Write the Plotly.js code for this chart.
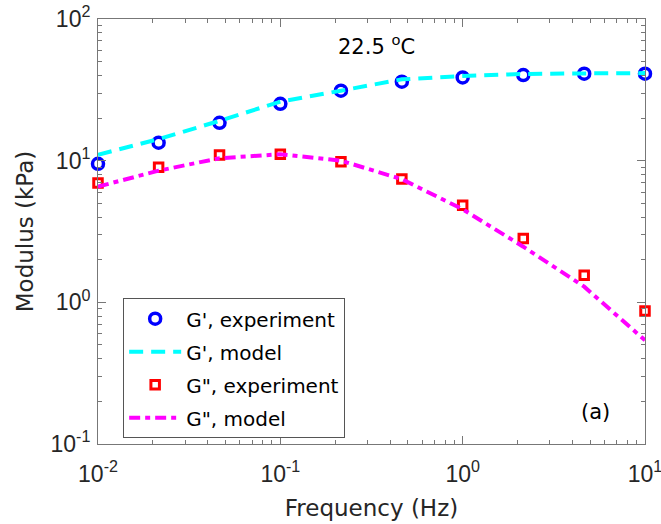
<!DOCTYPE html>
<html>
<head>
<meta charset="utf-8">
<script src="https://cdn.plot.ly/plotly-3.0.1.min.js"></script>
<style>html,body{margin:0;padding:0;background:#fff}#chart{width:661px;height:524px}</style>
</head>
<body>
<div id="chart"></div>
<script>
const freq = [0.01, 0.0215, 0.0464, 0.1, 0.215, 0.464, 1, 2.15, 4.64, 10];
const gStorageExp = [9.5, 13.4, 18.5, 25.2, 31.2, 36.1, 38.7, 40.2, 41.1, 41.1];
const gStorageModel = [11.0, 14.2, 19.1, 26.1, 31.2, 37.5, 39.6, 40.9, 41.3, 41.5];
const gLossExp = [6.96, 8.98, 10.96, 11.1, 9.84, 7.43, 4.84, 2.82, 1.55, 0.87];
const gLossModel = [6.56, 8.5, 10.4, 11.1, 10.0, 7.4, 4.54, 2.47, 1.29, 0.54];
const xTickVals = [0.01, 0.1, 1, 10];
const xTickText = ['10<sup>-2</sup>', '10<sup>-1</sup>', '10<sup>0</sup>', '10<sup>1</sup>'];
const yTickVals = [0.1, 1, 10, 100];
const yTickText = ['10<sup>-1</sup>', '10<sup>0</sup>', '10<sup>1</sup>', '10<sup>2</sup>'];

function minorVals(decades) {
  const out = [];
  decades.forEach(d => { for (let k = 2; k <= 9; k++) out.push(k * d); });
  return out;
}
const xMinor = minorVals([0.01, 0.1, 1]);
const yMinor = minorVals([0.1, 1, 10]);

const font = 'Liberation Sans, Arial, sans-serif';
const wide = 'DejaVu Sans, sans-serif';
const tc = '#262626';
const traces = [
  {x: freq, y: gStorageExp, name: "G', experiment", mode: 'markers', type: 'scatter', legendgroup: 'a',
   cliponaxis: false,
   marker: {symbol: 'circle-open', size: 11, color: '#0000ff', line: {width: 3.5, color: '#0000ff'}}},
  {x: freq, y: gStorageModel, name: "G', model", mode: 'lines', type: 'scatter', legendgroup: 'b',
   line: {color: '#00ffff', width: 4, dash: '14px,8px'}},
  {x: freq, y: gLossExp, name: 'G", experiment', mode: 'markers', type: 'scatter', legendgroup: 'c',
   cliponaxis: false,
   marker: {symbol: 'square-open', size: 8.5, color: '#ff0000', line: {width: 3, color: '#ff0000'}}},
  {x: freq, y: gLossModel, name: 'G", model', mode: 'lines', type: 'scatter', legendgroup: 'd',
   line: {color: '#ff00ff', width: 4, dash: '11px,5px,5px,5px'}},
  {x: [0.01, 10], y: [0.1, 100], xaxis: 'x2', yaxis: 'y2', mode: 'markers', showlegend: false,
   marker: {opacity: 0}, hoverinfo: 'skip'}
];
const axisCommon = {
  type: 'log', showgrid: false, zeroline: false, showline: true, mirror: 'ticks',
  linecolor: '#777', linewidth: 1, ticks: 'inside', ticklen: 8, tickcolor: '#777',
  tickfont: {family: font, size: 23, color: tc}, ticklabeloverflow: 'allow'
};
const minorCommon = {
  type: 'log', showgrid: false, zeroline: false, showline: false, mirror: 'ticks',
  ticks: 'inside', ticklen: 4, tickcolor: '#777', showticklabels: false
};
const layout = {
  width: 661, height: 524,
  margin: {l: 98, r: 16, t: 19, b: 80},
  paper_bgcolor: '#fff', plot_bgcolor: '#fff',
  showlegend: true,
  xaxis: Object.assign({}, axisCommon, {
    range: [-2, 1], tickvals: xTickVals, ticktext: xTickText, ticklabelstandoff: 9,
    title: {text: 'Frequency (Hz)', font: {family: wide, size: 23, color: tc}, standoff: 14}
  }),
  yaxis: Object.assign({}, axisCommon, {
    range: [-1, 2], tickvals: yTickVals, ticktext: yTickText, ticklabelstandoff: 2,
    title: {text: 'Modulus (kPa)', font: {family: wide, size: 23, color: tc}, standoff: 10}
  }),
  xaxis2: Object.assign({}, minorCommon, {overlaying: 'x', range: [-2, 1], tickvals: xMinor, anchor: 'y2'}),
  yaxis2: Object.assign({}, minorCommon, {overlaying: 'y', range: [-1, 2], tickvals: yMinor, anchor: 'x2'}),
  legend: {
    x: 0.046, y: 0.343, xanchor: 'left', yanchor: 'top',
    bgcolor: '#fff', bordercolor: '#555', borderwidth: 1,
    font: {family: wide, size: 20, color: '#000'},
    tracegroupgap: 4, itemwidth: 52, traceorder: 'grouped'
  },
  annotations: [
    {xref: 'paper', yref: 'paper', x: 0.51, y: 0.94, text: '22.5 <sup>o</sup>C', showarrow: false,
     font: {family: wide, size: 21, color: '#000'}, xanchor: 'center', yanchor: 'middle'},
    {xref: 'paper', yref: 'paper', x: 0.91, y: 0.075, text: '(a)', showarrow: false,
     font: {family: wide, size: 21, color: '#000'}, xanchor: 'center', yanchor: 'middle'}
  ]
};
Plotly.newPlot('chart', traces, layout, {displayModeBar: false, staticPlot: true});
</script>
</body>
</html>
